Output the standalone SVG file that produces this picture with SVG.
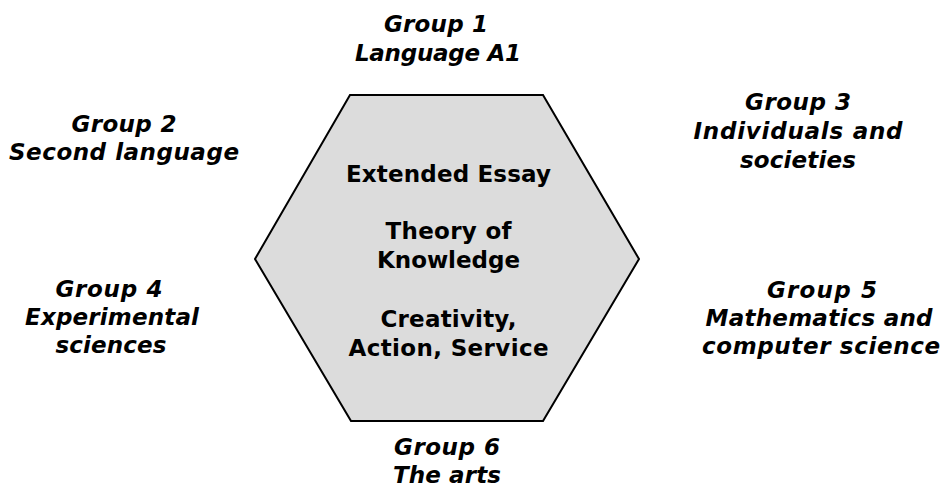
<svg xmlns="http://www.w3.org/2000/svg" width="941" height="487" viewBox="0 0 941 487">
  <style>
    .lbl { font-family: "DejaVu Sans", Verdana, sans-serif; font-size: 23px; font-weight: bold; font-style: italic; fill: #000; text-anchor: middle; }
    .core { font-family: "DejaVu Sans", Verdana, sans-serif; font-size: 23px; font-weight: bold; fill: #000; text-anchor: middle; }
    .hex { fill: #dcdcdc; stroke: #000; stroke-width: 2; stroke-linejoin: miter; }
  </style>
  <rect width="941" height="487" fill="#fff"/>

  <!-- central hexagon with the core components -->
  <g id="core">
    <polygon class="hex" points="350,95 543,95 639,259 543,421 351,421 255,259"/>
    <text class="core" x="448.5" y="182" textLength="205" lengthAdjust="spacing">Extended Essay</text>
    <text class="core" x="448.5" y="239" textLength="126" lengthAdjust="spacing">Theory of</text>
    <text class="core" x="448.5" y="268" textLength="143" lengthAdjust="spacing">Knowledge</text>
    <text class="core" x="448.5" y="327" textLength="136" lengthAdjust="spacing">Creativity,</text>
    <text class="core" x="448.5" y="356" textLength="200" lengthAdjust="spacing">Action, Service</text>
  </g>

  <!-- subject groups around the hexagon -->
  <g id="group1">
    <text class="lbl" x="436" y="32" textLength="104" lengthAdjust="spacing">Group 1</text>
    <text class="lbl" x="438" y="61" textLength="166" lengthAdjust="spacing">Language A1</text>
  </g>
  <g id="group2">
    <text class="lbl" x="124" y="132" textLength="105" lengthAdjust="spacing">Group 2</text>
    <text class="lbl" x="124" y="160" textLength="230" lengthAdjust="spacing">Second language</text>
  </g>
  <g id="group3">
    <text class="lbl" x="798" y="110" textLength="106" lengthAdjust="spacing">Group 3</text>
    <text class="lbl" x="798" y="139" textLength="209" lengthAdjust="spacing">Individuals and</text>
    <text class="lbl" x="798" y="168" textLength="116" lengthAdjust="spacing">societies</text>
  </g>
  <g id="group4">
    <text class="lbl" x="109" y="297" textLength="107" lengthAdjust="spacing">Group 4</text>
    <text class="lbl" x="112" y="325" textLength="174" lengthAdjust="spacing">Experimental</text>
    <text class="lbl" x="111" y="353" textLength="111" lengthAdjust="spacing">sciences</text>
  </g>
  <g id="group5">
    <text class="lbl" x="822" y="298" textLength="110" lengthAdjust="spacing">Group 5</text>
    <text class="lbl" x="819" y="326" textLength="227" lengthAdjust="spacing">Mathematics and</text>
    <text class="lbl" x="821" y="354" textLength="238" lengthAdjust="spacing">computer science</text>
  </g>
  <g id="group6">
    <text class="lbl" x="447" y="455" textLength="106" lengthAdjust="spacing">Group 6</text>
    <text class="lbl" x="447" y="483" textLength="108" lengthAdjust="spacing">The arts</text>
  </g>
</svg>
